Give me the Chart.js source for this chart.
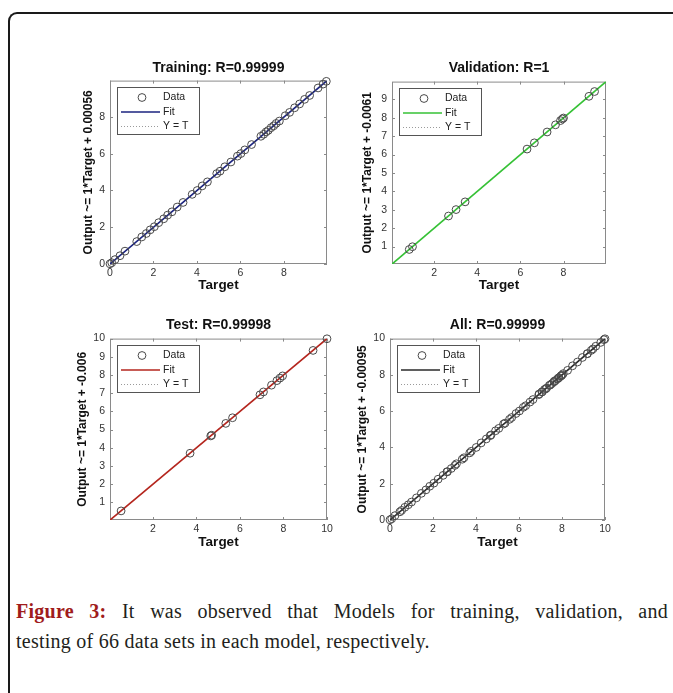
<!DOCTYPE html>
<html>
<head>
<meta charset="utf-8">
<script src="https://cdn.jsdelivr.net/npm/chart.js@4.4.1/dist/chart.umd.min.js"></script>
<style>
  body { margin: 0; background: #fff; width: 673px; height: 693px; overflow: hidden; position: relative; }
  #frame { position: absolute; left: 8px; top: 12px; width: 720px; height: 760px; border-left: 2px solid #1a1a1a; border-top: 2px solid #1a1a1a; border-top-left-radius: 9px; }
  canvas.plot { position: absolute; }
  #caption { position: absolute; left: 16px; top: 596px; width: 652px; font-family: "Liberation Serif", "DejaVu Serif", serif; font-size: 20px; line-height: 30px; letter-spacing: 0.25px; color: #231f20; }
  #caption .l1 { text-align: justify; text-align-last: justify; white-space: nowrap; }
  #caption b { color: #a01c1c; }
</style>
</head>
<body>
<div id="frame"></div>
<canvas class="plot" id="cTrain" width="280" height="250" style="left:60px;top:55px"></canvas>
<canvas class="plot" id="cVal" width="280" height="250" style="left:340px;top:55px"></canvas>
<canvas class="plot" id="cTest" width="280" height="250" style="left:60px;top:313px"></canvas>
<canvas class="plot" id="cAll" width="280" height="250" style="left:340px;top:313px"></canvas>
<div id="caption">
  <div class="l1"><b>Figure 3:</b> It was observed that Models for training, validation, and</div>
  <div>testing of 66 data sets in each model, respectively.</div>
</div>
<script>
// Valores (Target / Output)
const trainTarget = [0.00, 0.08, 0.23, 0.46, 0.69, 1.23, 1.46, 1.67, 1.85, 2.04, 2.24, 2.47, 2.65, 2.85, 3.09, 3.36,
  3.78, 4.01, 4.24, 4.48, 4.91, 5.06, 5.28, 5.56, 5.86, 6.02, 6.20, 6.51, 6.94, 7.07, 7.18, 7.28, 7.41, 7.53,
  7.64, 7.79, 8.06, 8.26, 8.49, 8.72, 8.95, 9.18, 9.57, 9.80, 9.95];
const trainOutput = [0.01, 0.07, 0.24, 0.45, 0.70, 1.22, 1.47, 1.66, 1.86, 2.03, 2.25, 2.46, 2.66, 2.84, 3.10, 3.35,
  3.79, 4.00, 4.25, 4.47, 4.92, 5.05, 5.29, 5.55, 5.87, 6.01, 6.21, 6.50, 6.95, 7.06, 7.19, 7.27, 7.42, 7.52,
  7.65, 7.78, 8.07, 8.25, 8.50, 8.71, 8.96, 9.17, 9.58, 9.79, 9.94];

const valTarget = [0.85, 1.00, 2.67, 3.02, 3.44, 6.31, 6.65, 7.24, 7.63, 7.86, 7.95, 8.00, 9.18, 9.44];
const valOutput = [0.84, 0.99, 2.66, 3.01, 3.43, 6.30, 6.64, 7.23, 7.62, 7.85, 7.94, 7.99, 9.17, 9.43];

const testTarget = [0.54, 3.71, 4.66, 4.70, 5.35, 5.66, 6.92, 7.08, 7.45, 7.70, 7.84, 7.96, 9.36, 10.00];
const testOutput = [0.53, 3.70, 4.65, 4.69, 5.34, 5.65, 6.91, 7.07, 7.44, 7.69, 7.83, 7.95, 9.35, 9.99];

const allTarget = trainTarget.concat(valTarget, testTarget);
const allOutput = trainOutput.concat(valOutput, testOutput);

// Ejes y marcas
const trainRange = [0, 9.98];
const valRange = [0.05, 9.97];
const testRange = [0.03, 10];
const allRange = [0, 10];

const trainTicks = [0, 2, 4, 6, 8];
const valXTicks = [2, 4, 6, 8];
const valYTicks = [1, 2, 3, 4, 5, 6, 7, 8, 9];
const testXTicks = [2, 4, 6, 8, 10];
const testYTicks = [1, 2, 3, 4, 5, 6, 7, 8, 9, 10];
const allTicks = [0, 2, 4, 6, 8, 10];

const FONT = '"Liberation Sans", Arial, sans-serif';
Chart.defaults.font.family = FONT;
Chart.defaults.color = '#333';

// Caja estilo MATLAB con marcas hacia dentro
const matlabBox = {
  id: 'matlabBox',
  beforeDatasetsDraw(chart) {
    const { ctx, chartArea: a, scales: { x, y } } = chart;
    ctx.save();
    ctx.strokeStyle = '#8a8a8a';
    ctx.lineWidth = 1;
    ctx.beginPath();
    x.ticks.forEach(t => {
      const px = Math.round(x.getPixelForValue(t.value)) + 0.5;
      ctx.moveTo(px, a.bottom); ctx.lineTo(px, a.bottom - 3);
      ctx.moveTo(px, a.top); ctx.lineTo(px, a.top + 3);
    });
    y.ticks.forEach(t => {
      const py = Math.round(y.getPixelForValue(t.value)) + 0.5;
      ctx.moveTo(a.left, py); ctx.lineTo(a.left + 3, py);
      ctx.moveTo(a.right, py); ctx.lineTo(a.right - 3, py);
    });
    ctx.stroke();
    ctx.strokeRect(a.left + 0.5, a.top + 0.5, a.width - 1, a.height - 1);
    ctx.restore();
  }
};

// Leyenda con recuadro dentro del area
const boxLegend = {
  id: 'boxLegend',
  afterDatasetsDraw(chart) {
    const { ctx, chartArea: a } = chart;
    const x0 = Math.round(a.left) + 7, y0 = Math.round(a.top) + 6;
    ctx.save();
    ctx.fillStyle = '#fff';
    ctx.fillRect(x0, y0, 82, 47);
    ctx.strokeStyle = '#555';
    ctx.lineWidth = 1;
    ctx.strokeRect(x0 + 0.5, y0 + 0.5, 82, 47);
    ctx.font = '10.5px ' + FONT;
    ctx.textBaseline = 'middle';
    chart.data.datasets.forEach((ds, i) => {
      const cy = y0 + 10.5 + i * 14.5;
      ctx.strokeStyle = ds.borderColor;
      ctx.lineWidth = ds.showLine ? ds.borderWidth : 1;
      ctx.setLineDash(ds.borderDash || []);
      ctx.beginPath();
      if (ds.showLine) {
        ctx.moveTo(x0 + 4, cy); ctx.lineTo(x0 + 43, cy);
      } else {
        ctx.arc(x0 + 25, cy, ds.pointRadius, 0, Math.PI * 2);
      }
      ctx.stroke();
      ctx.setLineDash([]);
      ctx.fillStyle = '#222';
      ctx.fillText(ds.label, x0 + 46, cy);
    });
    ctx.restore();
  }
};

function makePlot(id, cfg) {
  const pts = cfg.target.map((t, i) => ({ x: t, y: cfg.output[i] }));
  const [lo, hi] = cfg.range;
  const fitPts = [{ x: lo, y: lo + cfg.offset }, { x: hi, y: hi + cfg.offset }];
  const idPts = [{ x: lo, y: lo }, { x: hi, y: hi }];

  new Chart(document.getElementById(id), {
    type: 'scatter',
    data: {
      datasets: [
        { label: 'Data', data: pts, showLine: false, pointStyle: 'circle', pointRadius: 3.9,
          pointBorderWidth: 1, borderColor: '#4a4a4a', backgroundColor: 'rgba(0,0,0,0)', clip: false },
        { label: 'Fit', data: fitPts, showLine: true, borderColor: cfg.color, borderWidth: 1.6, pointRadius: 0 },
        { label: 'Y = T', data: idPts, showLine: true, borderColor: '#9a9a9a', borderWidth: 1,
          borderDash: [1, 2], pointRadius: 0 }
      ]
    },
    options: {
      responsive: false,
      animation: false,
      events: [],
      layout: { padding: { left: 0, right: cfg.padRight, top: 0, bottom: 0 } },
      plugins: {
        legend: { display: false },
        tooltip: { enabled: false },
        title: {
          display: true, text: cfg.title, fullSize: false, color: '#111',
          font: { size: 14, weight: 'bold', lineHeight: 1.2 },
          padding: { top: cfg.titleTop, bottom: cfg.titleBottom }
        }
      },
      scales: {
        x: {
          type: 'linear', min: lo, max: hi,
          grid: { display: false, drawTicks: false },
          border: { display: false },
          afterBuildTicks: s => { s.ticks = cfg.xTicks.map(v => ({ value: v })); },
          afterFit: s => { s.height = cfg.xHeight; },
          ticks: { font: { size: 10.5 }, padding: 3, maxRotation: 0, autoSkip: false, color: '#333' },
          title: { display: true, text: 'Target', color: '#111', font: { size: 13.5, weight: 'bold', lineHeight: 1.2 },
            padding: { top: 0, bottom: cfg.xTitleBottom } }
        },
        y: {
          type: 'linear', min: lo, max: hi,
          grid: { display: false, drawTicks: false },
          border: { display: false },
          afterBuildTicks: s => { s.ticks = cfg.yTicks.map(v => ({ value: v })); },
          afterFit: s => { s.width = cfg.yWidth; },
          ticks: { font: { size: 10.5 }, padding: 5, autoSkip: false, color: '#333' },
          title: { display: true, text: cfg.yTitle, color: '#111', font: { size: 12, weight: 'bold', lineHeight: 1.2 },
            padding: { top: cfg.yTitleTop, bottom: 0 } }
        }
      }
    },
    plugins: [matlabBox, boxLegend]
  });
}

makePlot('cTrain', {
  title: 'Training: R=0.99999', yTitle: 'Output ~= 1*Target + 0.00056',
  target: trainTarget, output: trainOutput, range: trainRange, offset: 0.00056,
  xTicks: trainTicks, yTicks: trainTicks, color: '#1b237f',
  padRight: 13, yWidth: 50, xHeight: 41, titleTop: 4.6, titleBottom: 4.2, xTitleBottom: 12, yTitleTop: 21.8
});
makePlot('cVal', {
  title: 'Validation: R=1', yTitle: 'Output ~= 1*Target + -0.0061',
  target: valTarget, output: valOutput, range: valRange, offset: -0.0061,
  xTicks: valXTicks, yTicks: valYTicks, color: '#36c236',
  padRight: 14, yWidth: 52, xHeight: 41, titleTop: 4.6, titleBottom: 5.2, xTitleBottom: 12, yTitleTop: 20.3
});
makePlot('cTest', {
  title: 'Test: R=0.99998', yTitle: 'Output ~= 1*Target + -0.006',
  target: testTarget, output: testOutput, range: testRange, offset: -0.006,
  xTicks: testXTicks, yTicks: testYTicks, color: '#b5261e',
  padRight: 13, yWidth: 50, xHeight: 43, titleTop: 3.6, titleBottom: 5.2, xTitleBottom: 13, yTitleTop: 15.3
});
makePlot('cAll', {
  title: 'All: R=0.99999', yTitle: 'Output ~= 1*Target + -0.00095',
  target: allTarget, output: allOutput, range: allRange, offset: -0.00095,
  xTicks: allTicks, yTicks: allTicks, color: '#2a2a2a',
  padRight: 15, yWidth: 50, xHeight: 43, titleTop: 3.6, titleBottom: 5.2, xTitleBottom: 13, yTitleTop: 15.3
});
</script>
</body>
</html>
